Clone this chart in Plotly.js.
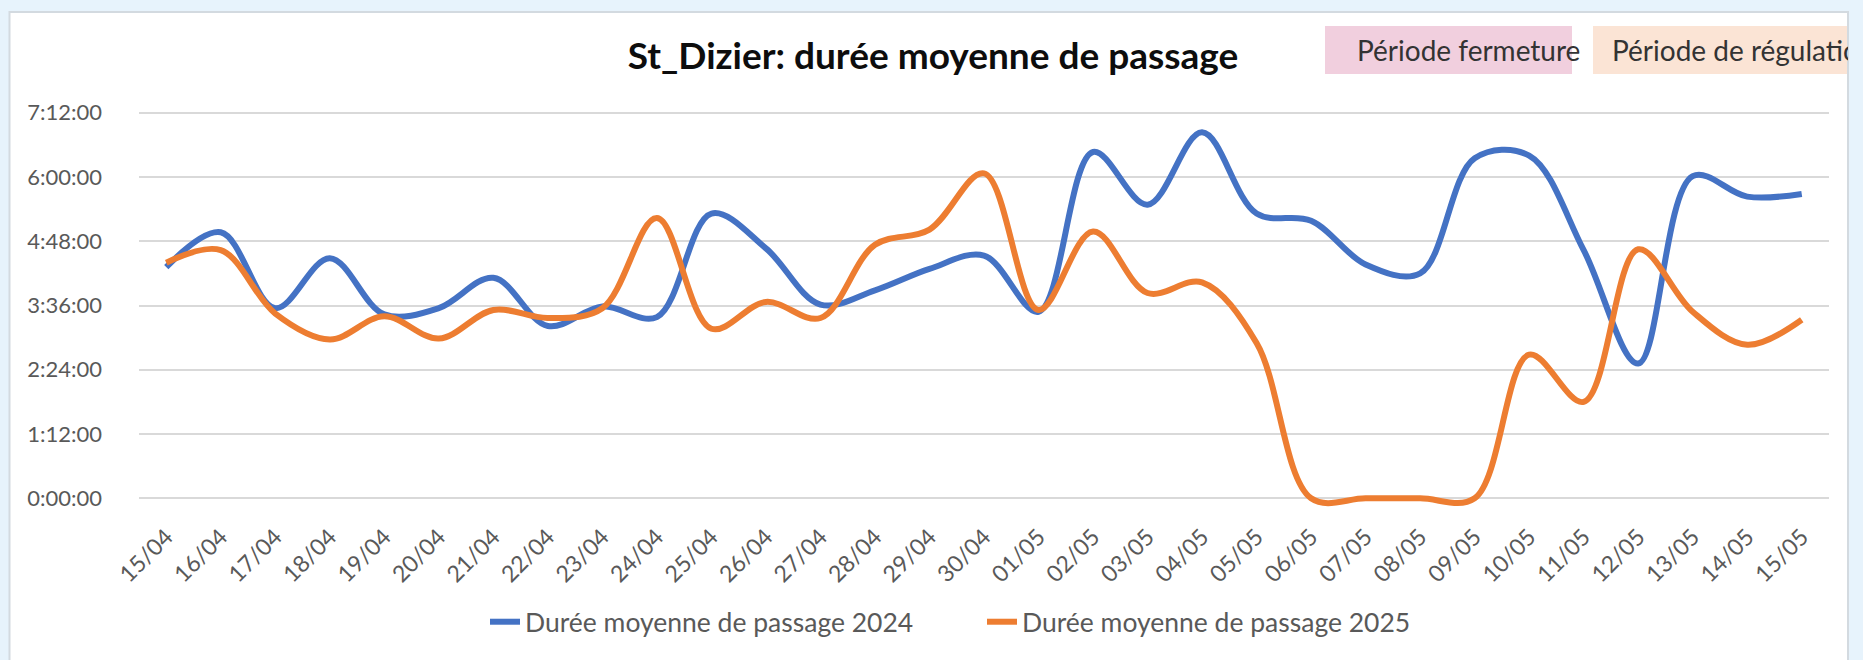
<!DOCTYPE html>
<html><head><meta charset="utf-8">
<script src="https://cdn.plot.ly/plotly-3.0.1.min.js"></script>
<style>html,body{margin:0;padding:0;background:#e7f3fc;} #chart{width:1863px;height:660px;}</style>
</head><body><div id="chart"></div>
<script>
// ---- data ----
const dates = ["15/04","16/04","17/04","18/04","19/04","20/04","21/04","22/04","23/04","24/04","25/04","26/04","27/04","28/04","29/04","30/04","01/05","02/05","03/05","04/05","05/05","06/05","07/05","08/05","09/05","10/05","11/05","12/05","13/05","14/05","15/05"];
const duree2024 = ["4:19","4:58","3:33","4:29","3:26","3:33","4:07","3:13","3:35","3:23","5:19","4:40","3:37","3:53","4:17","4:32","3:29","6:28","5:29","6:50","5:19","5:11","4:22","4:12","6:21","6:24","4:38","2:31","6:01","5:38","5:41"];
const duree2025 = ["4:24","4:38","3:27","2:58","3:24","2:59","3:31","3:22","3:33","5:14","3:10","3:40","3:22","4:44","5:01","6:04","3:31","4:59","3:50","4:02","2:54","0:00","0:00","0:00","0:00","2:41","1:48","4:39","3:29","2:52","3:20"];
const yTickLabels = ["0:00:00","1:12:00","2:24:00","3:36:00","4:48:00","6:00:00","7:12:00"];
const seriesNames = ["Durée moyenne de passage 2024","Durée moyenne de passage 2025"];
const periodLabels = ["Période fermeture","Période de régulation"];
const chartTitle = "St_Dizier: durée moyenne de passage";

function toHours(s){ const p = s.split(':').map(Number); return p[0] + (p[1]||0)/60 + (p[2]||0)/3600; }

// ---- layout geometry ----
const W = 1863, H = 660, ML = 139, MR = 34, MT = 102, MB = 146;
const PW = W - ML - MR, PH = H - MT - MB;
const fx = p => (p - ML) / PW;
const fy = p => (H - MB - p) / PH;

const FONT = "Lato, 'Open Sans', 'DejaVu Sans', sans-serif";

const traces = [
  {type:'scatter', mode:'lines', name:seriesNames[0], x:dates, y:duree2024.map(toHours),
   line:{color:'#4472C4', width:6, shape:'spline', smoothing:1}},
  {type:'scatter', mode:'lines', name:seriesNames[1], x:dates, y:duree2025.map(toHours),
   line:{color:'#ED7D31', width:6, shape:'spline', smoothing:1}}
];

const layout = {
  width: W, height: H,
  margin: {l:ML, r:MR, t:MT, b:MB, pad:0},
  paper_bgcolor: '#e7f3fc',
  plot_bgcolor: '#ffffff',
  font: {family: FONT, color:'#595959'},
  title: {text: chartTitle, font:{family:FONT, size:37, weight:700, color:'#0d0d0d'},
          xref:'paper', x: fx(933), xanchor:'center', yref:'container', y: 1 - 56/H, yanchor:'middle'},
  showlegend: true,
  legend: {orientation:'h', x: fx(982), xanchor:'center', y: fy(622), yanchor:'middle',
           entrywidth: 452, entrywidthmode:'pixels',
           font:{family:FONT, size:26.5, color:'#595959'}, bgcolor:'rgba(0,0,0,0)'},
  xaxis: {type:'category', range:[-0.5, 30.5], showgrid:false, zeroline:false, showline:false,
          ticks:'', tickangle:-45, tickfont:{family:FONT, size:23, color:'#595959'}, ticklabelstandoff: 4,
          fixedrange:true},
  yaxis: {range:[-0.293, 7.4], tickvals: yTickLabels.map(toHours), ticktext: yTickLabels,
          showgrid:true, gridcolor:'#d9d9d9', gridwidth:2, zeroline:false, showline:false, ticks:'',
          tickfont:{family:FONT, size:22, color:'#595959'}, ticklabelstandoff: 36, fixedrange:true},
  shapes: [
    {type:'rect', xref:'paper', yref:'paper', x0:fx(9.5), x1:fx(1848), y0:fy(672), y1:fy(12),
     fillcolor:'#ffffff', line:{color:'#d3dae0', width:2}, layer:'below'},
    {type:'rect', xref:'paper', yref:'paper', x0:fx(1325), x1:fx(1572), y0:fy(74), y1:fy(26),
     fillcolor:'#f1cfde', line:{width:0}, layer:'above'},
    {type:'rect', xref:'paper', yref:'paper', x0:fx(1593), x1:fx(1847), y0:fy(74), y1:fy(26),
     fillcolor:'#fbe4d5', line:{width:0}, layer:'above'}
  ],
  annotations: [
    {text: periodLabels[0], xref:'paper', yref:'paper', x:fx(1355), y:fy(50), xanchor:'left', yanchor:'middle',
     showarrow:false, font:{family:FONT, size:28, color:'#333333'}},
    {text: periodLabels[1], xref:'paper', yref:'paper', x:fx(1611), y:fy(50), xanchor:'left', yanchor:'middle',
     width: 236, align:'left', borderpad:0,
     showarrow:false, font:{family:FONT, size:28, color:'#333333'}}
  ]
};

Plotly.newPlot('chart', traces, layout, {displayModeBar:false, staticPlot:true});
</script>
</body></html>
